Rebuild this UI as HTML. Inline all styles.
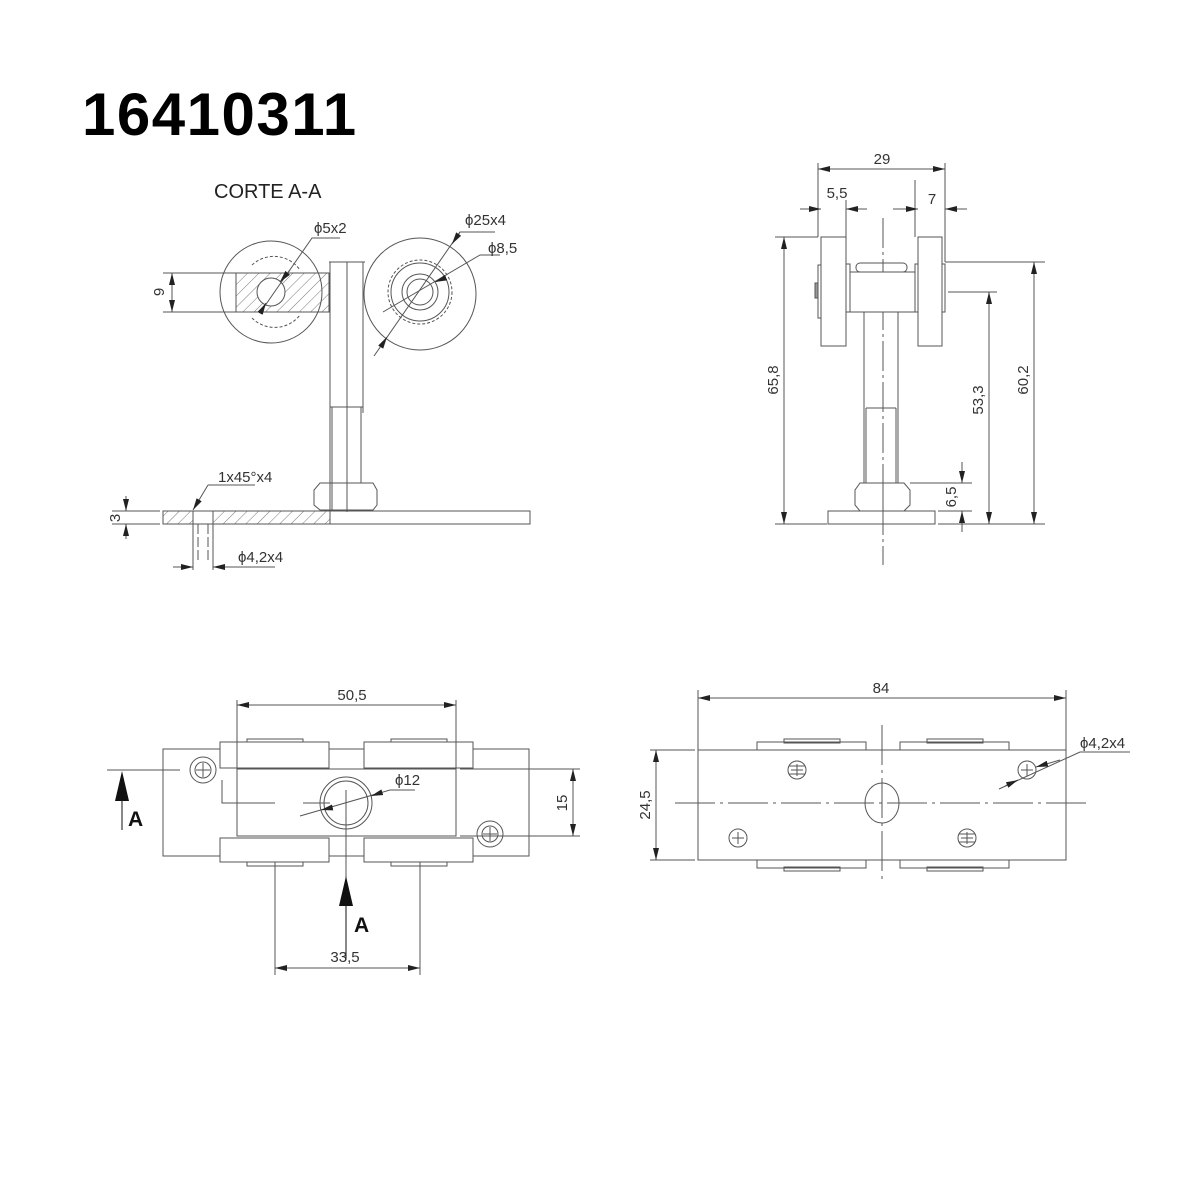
<!DOCTYPE html>
<html><head><meta charset="utf-8"><style>
html,body{margin:0;padding:0;background:#fff;}
svg{display:block}
text{font-family:"Liberation Sans",sans-serif;fill:#333;font-size:15px}
</style></head><body>
<svg width="1200" height="1200" viewBox="0 0 1200 1200" xmlns="http://www.w3.org/2000/svg">
<defs>
<pattern id="h" width="8" height="8" patternUnits="userSpaceOnUse" patternTransform="rotate(45)">
<line x1="0" y1="0" x2="0" y2="8" stroke="#555" stroke-width="0.8"/></pattern>
<marker id="a" markerWidth="12" markerHeight="6" refX="12" refY="3" orient="auto-start-reverse" markerUnits="userSpaceOnUse">
<path d="M0,0 L12,3 L0,6z" fill="#222"/></marker>
</defs>
<text x="82" y="135" style="font-size:60px;font-weight:bold;fill:#000;letter-spacing:1.5px;font-family:'Liberation Sans',sans-serif">16410311</text>
<text x="214" y="198" style="font-size:20px;fill:#222">CORTE A-A</text>

<g stroke="#555" stroke-width="1" fill="none">
<circle cx="271" cy="292" r="51"/>
<circle cx="420" cy="294" r="56"/>
<circle cx="420" cy="292" r="32" stroke-dasharray="3,2"/>
<circle cx="420" cy="292" r="29"/>
<circle cx="420" cy="292" r="18"/>
<circle cx="420" cy="292" r="13"/>
<path d="M252,265 A32,32 0 0 1 300,270 M252,318 A32,32 0 0 0 300,315" stroke-dasharray="3,2"/>
<rect x="236" y="273" width="93" height="39" fill="url(#h)"/>
<circle cx="271" cy="292" r="14" fill="#fff"/>
<path d="M329,262 H365 M330,262 V512 M347,262 V512 M363,262 V413 M330,407 H363 M332,407 V510 M361,407 V483"/>
<path d="M320,483 H373 L377,490 V505 L373,510 H320 L314,505 V490 Z M347,483 V510"/>
<rect x="163" y="511" width="367" height="13"/>
<rect x="163" y="511" width="167" height="13" fill="url(#h)"/>
<rect x="193" y="511" width="20" height="13" fill="#fff"/>
<path d="M198,524 V560 M208,524 V560" stroke-dasharray="10,3"/>
<path d="M163,273 H236 M163,312 H236"/>
<line x1="172" y1="300" x2="172" y2="273" marker-end="url(#a)"/>
<line x1="172" y1="285" x2="172" y2="312" marker-end="url(#a)"/>
<path d="M112,511 H160 M112,524 H160"/>
<line x1="126" y1="496" x2="126" y2="511" marker-end="url(#a)"/>
<line x1="126" y1="539" x2="126" y2="524" marker-end="url(#a)"/>
<line x1="173" y1="567" x2="193" y2="567" marker-end="url(#a)"/>
<line x1="275" y1="567" x2="213" y2="567" marker-end="url(#a)"/>
<path d="M193,524 V570 M213,524 V570"/>
<path d="M255,485 H208"/><line x1="208" y1="485" x2="193" y2="510" marker-end="url(#a)"/>
<path d="M340,238 H312 L262,310"/>
<line x1="290" y1="270" x2="280" y2="282" marker-end="url(#a)"/>
<line x1="262" y1="310" x2="266" y2="303" marker-end="url(#a)"/>
<path d="M495,232 H460 L374,356"/>
<line x1="460" y1="232" x2="452" y2="244" marker-end="url(#a)"/>
<line x1="382" y1="345" x2="387" y2="337" marker-end="url(#a)"/>
<path d="M500,255 H480 L383,312"/>
<line x1="440" y1="280" x2="435" y2="282" marker-end="url(#a)"/>

<line x1="883" y1="218" x2="883" y2="565" stroke-dasharray="30,4,3,4"/>
<rect x="821" y="237" width="25" height="109" fill="#fff"/>
<rect x="918" y="237" width="24" height="109" fill="#fff"/>
<rect x="818" y="265" width="3" height="53"/>
<rect x="846" y="264" width="4" height="48"/>
<rect x="915" y="264" width="3" height="48"/>
<rect x="942" y="264" width="3" height="48"/>
<rect x="815" y="283" width="3" height="15" fill="#999"/>
<rect x="850" y="272" width="65" height="40" fill="#fff"/>
<rect x="856" y="263" width="51" height="9" rx="4"/>
<path d="M864,312 V483 M898,312 V483 M866,408 H896 M866,408 V483 M896,408 V483"/>
<path d="M860,483 H904 L910,490 V505 L904,511 H860 L855,505 V490 Z M883,483 V511"/>
<rect x="828" y="511" width="107" height="13"/>
<path d="M818,163 V237 M945,163 V262 M846,200 V237 M915,180 V237"/>
<line x1="850" y1="169" x2="818" y2="169" marker-end="url(#a)"/>
<line x1="910" y1="169" x2="945" y2="169" marker-end="url(#a)"/>
<path d="M850,169 H910"/>
<line x1="800" y1="209" x2="821" y2="209" marker-end="url(#a)"/>
<line x1="867" y1="209" x2="846" y2="209" marker-end="url(#a)"/>
<line x1="893" y1="209" x2="918" y2="209" marker-end="url(#a)"/>
<line x1="967" y1="209" x2="945" y2="209" marker-end="url(#a)"/>
<path d="M775,237 H818 M775,524 H827 M945,262 H1045 M948,292 H997 M910,483 H972 M938,511 H972 M938,524 H1045"/>
<line x1="784" y1="380" x2="784" y2="237" marker-end="url(#a)"/>
<line x1="784" y1="380" x2="784" y2="524" marker-end="url(#a)"/>
<line x1="1034" y1="390" x2="1034" y2="262" marker-end="url(#a)"/>
<line x1="1034" y1="390" x2="1034" y2="524" marker-end="url(#a)"/>
<line x1="989" y1="400" x2="989" y2="292" marker-end="url(#a)"/>
<line x1="989" y1="400" x2="989" y2="524" marker-end="url(#a)"/>
<line x1="962" y1="462" x2="962" y2="483" marker-end="url(#a)"/>
<line x1="962" y1="532" x2="962" y2="511" marker-end="url(#a)"/>

<rect x="163" y="749" width="366" height="107"/>
<rect x="247" y="739" width="56" height="4"/><rect x="391" y="739" width="56" height="4"/>
<rect x="247" y="862" width="56" height="4"/><rect x="391" y="862" width="56" height="4"/>
<rect x="220" y="742" width="109" height="26" fill="#fff"/>
<rect x="364" y="742" width="109" height="26" fill="#fff"/>
<rect x="220" y="838" width="109" height="24" fill="#fff"/>
<rect x="364" y="838" width="109" height="24" fill="#fff"/>
<rect x="237" y="769" width="219" height="67" fill="#fff"/>
<circle cx="346" cy="803" r="26"/><circle cx="346" cy="803" r="22"/>
<circle cx="203" cy="770" r="13"/><circle cx="203" cy="770" r="8"/>
<path d="M196,770 H210 M203,763 V777"/>
<circle cx="490" cy="834" r="13"/><circle cx="490" cy="834" r="8"/>
<path d="M483,834 H497 M490,827 V841"/>
<path d="M222,780 V803 H275 M303,803 H330 M346,790 V960"/>
<path d="M107,770 H180 M460,769 H580 M460,836 H580"/>
<line x1="573" y1="800" x2="573" y2="769" marker-end="url(#a)"/>
<line x1="573" y1="800" x2="573" y2="836" marker-end="url(#a)"/>
<path d="M415,790 H390 L300,816"/>
<line x1="330" y1="808" x2="321" y2="810" marker-end="url(#a)"/>
<line x1="380" y1="793" x2="371" y2="796" marker-end="url(#a)"/>
<path d="M237,700 V770 M456,700 V770 M275,862 V975 M420,862 V975"/>
<line x1="345" y1="705" x2="237" y2="705" marker-end="url(#a)"/>
<line x1="345" y1="705" x2="456" y2="705" marker-end="url(#a)"/>
<line x1="345" y1="968" x2="275" y2="968" marker-end="url(#a)"/>
<line x1="345" y1="968" x2="420" y2="968" marker-end="url(#a)"/>
<line x1="122" y1="830" x2="122" y2="776" stroke="#111"/>

<rect x="784" y="739" width="56" height="4"/><rect x="927" y="739" width="56" height="4"/>
<rect x="784" y="867" width="56" height="4"/><rect x="927" y="867" width="56" height="4"/>
<rect x="757" y="742" width="109" height="8"/><rect x="900" y="742" width="109" height="8"/>
<rect x="757" y="860" width="109" height="8"/><rect x="900" y="860" width="109" height="8"/>
<rect x="698" y="750" width="368" height="110" fill="#fff"/>
<path d="M675,803 H1090" stroke-dasharray="40,5,3,5"/>
<path d="M882,725 V882" stroke-dasharray="40,5,3,5"/>
<ellipse cx="882" cy="803" rx="17" ry="20"/>
<circle cx="797" cy="770" r="9"/><path d="M791,770 H803 M797,764 V776 M789,766 H805 M789,774 H805"/>
<circle cx="738" cy="838" r="9"/><path d="M732,838 H744 M738,832 V844"/>
<circle cx="1027" cy="770" r="9"/><path d="M1021,770 H1033 M1027,764 V776"/>
<circle cx="967" cy="838" r="9"/><path d="M961,838 H973 M967,832 V844 M959,834 H975 M959,842 H975"/>
<path d="M698,690 V750 M1066,690 V750 M650,750 H695 M650,860 H695"/>
<line x1="880" y1="698" x2="698" y2="698" marker-end="url(#a)"/>
<line x1="880" y1="698" x2="1066" y2="698" marker-end="url(#a)"/>
<line x1="656" y1="805" x2="656" y2="750" marker-end="url(#a)"/>
<line x1="656" y1="805" x2="656" y2="860" marker-end="url(#a)"/>
<path d="M1130,752 H1080 L999,789"/>
<line x1="1005" y1="786" x2="1018" y2="780" marker-end="url(#a)"/>
<line x1="1060" y1="760" x2="1036" y2="767" marker-end="url(#a)"/>
</g>
<path d="M115,801 L122,771 L129,801z" fill="#111"/>
<line x1="346" y1="905" x2="346" y2="960" stroke="#111"/>
<path d="M339,906 L346,876 L353,906z" fill="#111"/>
<text x="128" y="826" style="font-size:21px;font-weight:bold;fill:#111">A</text>
<text x="354" y="932" style="font-size:21px;font-weight:bold;fill:#111">A</text>

<text x="314" y="233">ϕ5x2</text>
<text x="465" y="225">ϕ25x4</text>
<text x="488" y="253">ϕ8,5</text>
<text x="218" y="482">1x45°x4</text>
<text x="238" y="562">ϕ4,2x4</text>
<text transform="translate(164,292) rotate(-90)" text-anchor="middle">9</text>
<text transform="translate(120,518) rotate(-90)" text-anchor="middle">3</text>
<text x="882" y="164" text-anchor="middle">29</text>
<text x="837" y="198" text-anchor="middle">5,5</text>
<text x="932" y="204" text-anchor="middle">7</text>
<text transform="translate(778,380) rotate(-90)" text-anchor="middle">65,8</text>
<text transform="translate(983,400) rotate(-90)" text-anchor="middle">53,3</text>
<text transform="translate(1028,380) rotate(-90)" text-anchor="middle">60,2</text>
<text transform="translate(956,497) rotate(-90)" text-anchor="middle">6,5</text>
<text x="352" y="700" text-anchor="middle">50,5</text>
<text x="395" y="785">ϕ12</text>
<text transform="translate(567,803) rotate(-90)" text-anchor="middle">15</text>
<text x="345" y="962" text-anchor="middle">33,5</text>
<text x="881" y="693" text-anchor="middle">84</text>
<text transform="translate(650,805) rotate(-90)" text-anchor="middle">24,5</text>
<text x="1080" y="748">ϕ4,2x4</text>
</svg>
</body></html>
